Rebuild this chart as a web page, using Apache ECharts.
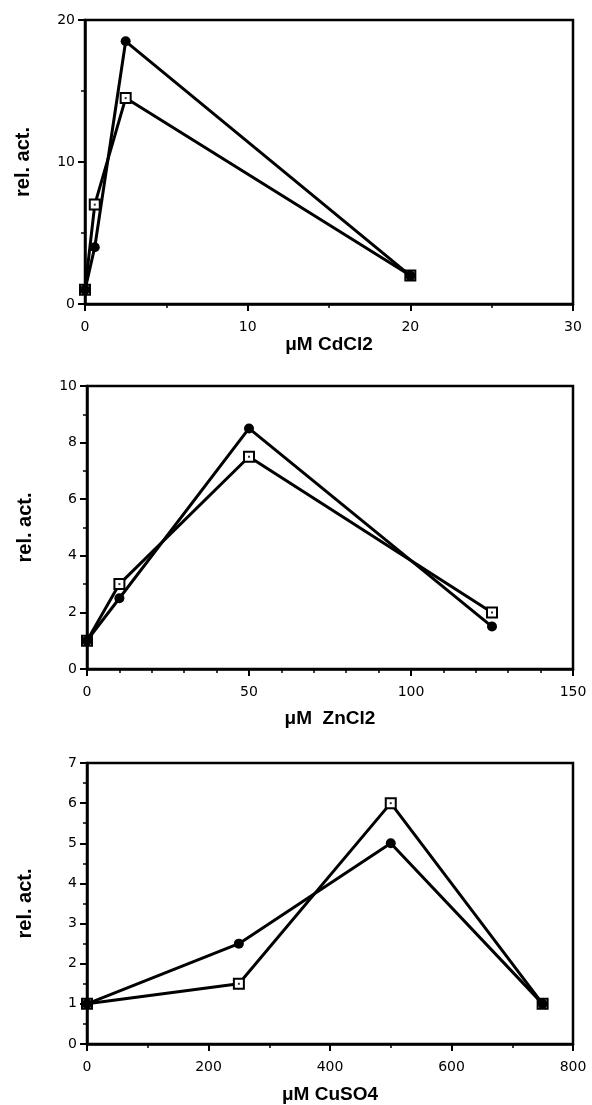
<!DOCTYPE html>
<html>
<head>
<meta charset="utf-8">
<script src="https://cdn.jsdelivr.net/npm/echarts@6/dist/echarts.min.js"></script>
<style>
  html, body { margin: 0; padding: 0; background: #fff; }
  #chart { width: 592px; height: 1105px; }
</style>
</head>
<body>
<div id="chart"></div>
<script>
// 数据 - CdCl2
const cdX = [0, 0.6, 2.5, 20];
const cdCircle = [1, 4, 18.5, 2];
const cdSquare = [1, 7, 14.5, 2];
// 数据 - ZnCl2
const znX = [0, 10, 50, 125];
const znCircle = [1, 2.5, 8.5, 1.5];
const znSquare = [1, 3, 7.5, 2];
// 数据 - CuSO4
const cuX = [0, 250, 500, 750];
const cuCircle = [1, 2.5, 5, 1];
const cuSquare = [1, 1.5, 6, 1];

const xNames = ["μM CdCl2", "μM  ZnCl2", "μM CuSO4"];
const yName = "rel. act.";

const font = "'Liberation Sans', Arial, Helvetica, sans-serif";
const tickFont = "'DejaVu Sans', sans-serif";

function pairs(xs, ys) {
  return xs.map((x, i) => [x, ys[i]]);
}

const grids = [
  { left: 85, top: 20, width: 488, height: 284 },
  { left: 87, top: 386, width: 486, height: 283 },
  { left: 87, top: 763, width: 486, height: 285 }
];

// 坐标轴范围
const xRanges = [
  { max: 30, interval: 10, minor: 2, gap: 27 },
  { max: 150, interval: 50, minor: 5, gap: 40 },
  { max: 800, interval: 200, minor: 2, gap: 41 }
];
const yRanges = [
  { max: 20, interval: 10, minor: 2 },
  { max: 10, interval: 2, minor: 2 },
  { max: 7, interval: 1, minor: 2 }
];

function axisCommon() {
  return {
    min: 0,
    axisLine: { show: true, lineStyle: { color: "#000", width: 2.5 } },
    axisTick: { show: true, inside: false, length: 7, lineStyle: { color: "#000", width: 2 } },
    minorTick: { show: true, length: 4, lineStyle: { color: "#000", width: 1.5 } },
    splitLine: { show: false },
    minorSplitLine: { show: false },
    axisLabel: { color: "#000", fontFamily: tickFont, fontSize: 14 }
  };
}

const xAxis = xRanges.map((r, i) => {
  const a = axisCommon();
  a.type = "value";
  a.gridIndex = i;
  a.max = r.max;
  a.interval = r.interval;
  a.minorTick.splitNumber = r.minor;
  a.axisLabel.margin = 16;
  a.name = xNames[i];
  a.nameLocation = "middle";
  a.nameGap = r.gap;
  a.nameTextStyle = { color: "#000", fontFamily: font, fontSize: 19, fontWeight: "bold" };
  return a;
});

const yAxis = yRanges.map((r, i) => {
  const a = axisCommon();
  a.type = "value";
  a.gridIndex = i;
  a.max = r.max;
  a.interval = r.interval;
  a.minorTick.splitNumber = r.minor;
  a.axisLabel.margin = 10;
  a.name = yName;
  a.nameLocation = "middle";
  a.nameGap = 52;
  a.nameTextStyle = { color: "#000", fontFamily: font, fontSize: 20, fontWeight: "bold" };
  return a;
});

const sets = [
  [cdX, cdCircle, cdSquare],
  [znX, znCircle, znSquare],
  [cuX, cuCircle, cuSquare]
];

const series = [];
sets.forEach(([xs, circ, sq], i) => {
  series.push({
    type: "line",
    xAxisIndex: i,
    yAxisIndex: i,
    data: pairs(xs, sq),
    symbol: "rect",
    symbolSize: 10,
    clip: false,
    lineStyle: { color: "#000", width: 3 },
    itemStyle: { color: "#fff", borderColor: "#000", borderWidth: 2 },
    z: 2
  });
  series.push({
    type: "scatter",
    xAxisIndex: i,
    yAxisIndex: i,
    data: pairs(xs, sq),
    symbol: "rect",
    symbolSize: 2,
    clip: false,
    itemStyle: { color: "#000" },
    z: 3
  });
  series.push({
    type: "line",
    xAxisIndex: i,
    yAxisIndex: i,
    data: pairs(xs, circ),
    symbol: "circle",
    symbolSize: 10,
    clip: false,
    lineStyle: { color: "#000", width: 3 },
    itemStyle: { color: "#000", borderColor: "#000", borderWidth: 0 },
    z: 4
  });
});

const chart = echarts.init(document.getElementById("chart"));
chart.setOption({
  animation: false,
  backgroundColor: "#fff",
  grid: grids.map(g => Object.assign({ show: true, borderColor: "#000", borderWidth: 2.5, backgroundColor: "transparent" }, g)),
  xAxis: xAxis,
  yAxis: yAxis,
  series: series
});
</script>
</body>
</html>
